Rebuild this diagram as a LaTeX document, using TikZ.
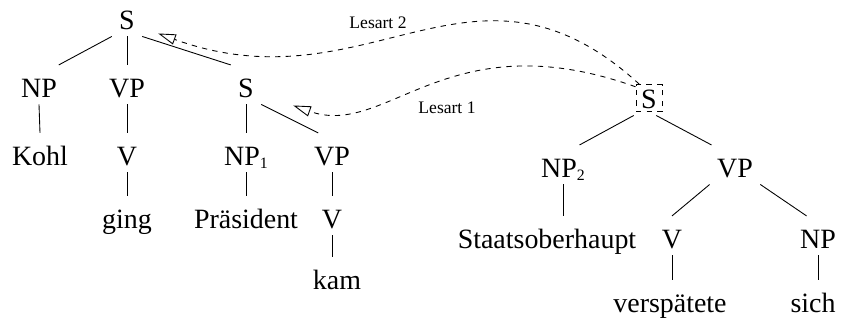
\documentclass[tikz,border=0pt]{standalone}
\usepackage{fontspec}
\setmainfont{Liberation Serif}
\usetikzlibrary{arrows.meta}

\newcommand{\idx}[1]{\raisebox{-1.8pt}{\fontsize{9}{10}\selectfont #1}}

\tikzset{
  syn/.style={inner xsep=4pt, inner ysep=2pt, text height=16pt, text depth=2pt, anchor=base},
  lesart/.style={font=\fontsize{10}{12}\selectfont, inner sep=0pt},
  reading/.style={dashed, -{Triangle[open, length=10pt, width=6pt]}},
}

\begin{document}
\begin{tikzpicture}[font=\fontsize{15.9}{19}\selectfont, line width=0.5pt]
\useasboundingbox (0,0) rectangle (17,6.4);

% first tree
\node[syn] (s0) at (2.54,5.82) {S};
\node[syn] (npa) at (0.78,4.46) {NP};
\node[syn] (vpa) at (2.54,4.46) {VP};
\node[syn] (s1) at (4.92,4.46) {S};
\node[syn] (kohl) at (0.80,3.10) {Kohl};
\node[syn] (va) at (2.54,3.10) {V};
\node[syn] (np1) at (4.92,3.10) {NP\idx{1}};
\node[syn] (vpb) at (6.64,3.10) {VP};
\node[syn] (ging) at (2.54,1.84) {ging};
\node[syn] (praes) at (4.92,1.84) {Präsident};
\node[syn] (vb) at (6.64,1.84) {V};
\node[syn] (kam) at (6.74,0.62) {kam};

\draw (s0.south west) -- (npa.45);
\draw (s0.south) -- (vpa.north);
\draw (s0.south east) -- (s1.north west);
\draw (npa.south) -- (kohl.north);
\draw (vpa.south) -- (va.north);
\draw (va.south) -- (ging.north);
\draw (s1.south) -- (np1.north);
\draw (s1.south east) -- (vpb.125);
\draw (np1.south) -- (praes.north);
\draw (vpb.south) -- (vb.north);
\draw (vb.south) -- (vb.south |- kam.north);

% second tree, root in a dashed box
\node[syn] (s3) at (12.98,4.24) {S};
\node[draw, dashed, minimum width=0.52cm, minimum height=0.54cm, inner sep=0pt, anchor=south]
  (sbox) at ([yshift=-0.08cm]s3.base) {};
\node[syn] (np2) at (11.26,2.86) {NP\idx{2}};
\node[syn] (vpc) at (14.70,2.86) {VP};
\node[syn] (staats) at (10.94,1.44) {Staatsoberhaupt};
\node[syn] (vc) at (13.44,1.44) {V};
\node[syn] (npc) at (16.36,1.44) {NP};
\node[syn] (versp) at (13.40,0.16) {verspätete};
\node[syn] (sich) at (16.26,0.16) {sich};

\draw (s3.south west) -- (np2.50);
\draw (s3.-70) -- (vpc.140);
\draw (np2.south) -- (np2.south |- staats.north);
\draw (vpc.south west) -- (vc.north);
\draw (vpc.south east) -- (npc.120);
\draw (vc.south) -- (vc.south |- versp.north);
\draw (npc.south) -- (npc.south |- sich.north);

% the two readings
\draw[reading] (sbox.125) .. controls (9.46,7.75) and (7.39,4.2) .. ([shift={(0.32,0.06)}]s0.south east);
\node[lesart] (l2) at (7.56,5.94) {Lesart 2};
\draw[reading] (sbox.140) .. controls (8.94,6.01) and (7.74,3.62) .. ([shift={(0.64,-0.02)}]s1.south east);
\node[lesart] (l1) at (8.94,4.24) {Lesart 1};
\end{tikzpicture}
\end{document}
